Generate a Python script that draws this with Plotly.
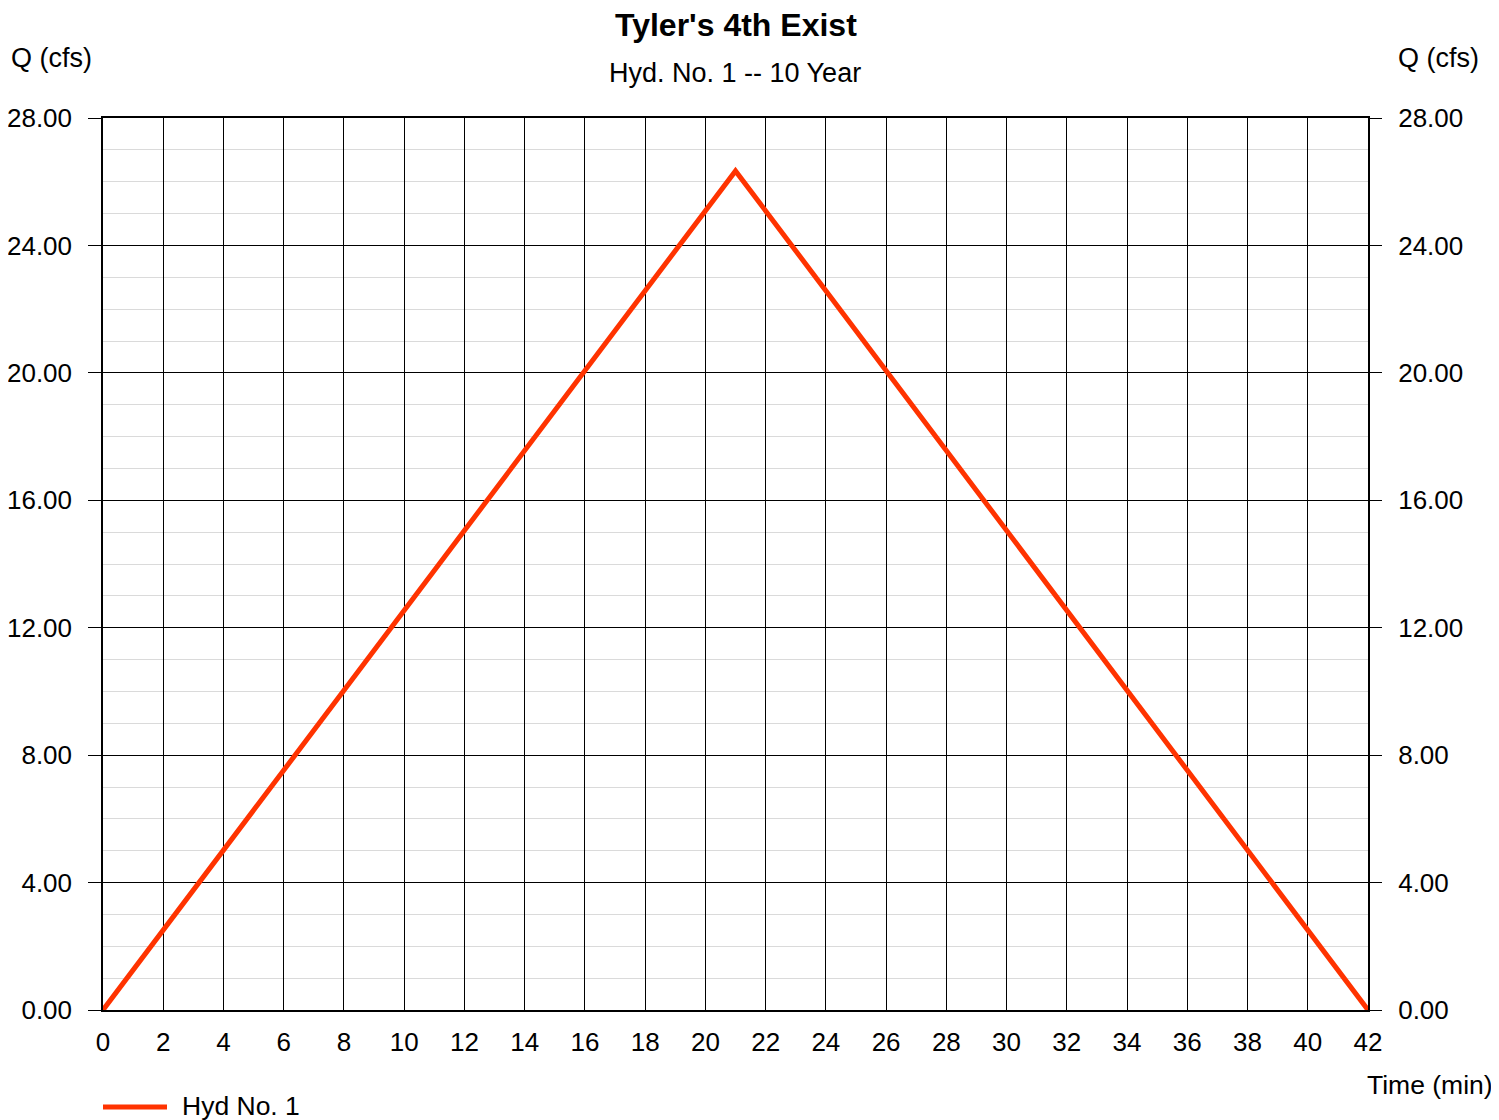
import plotly.graph_objects as go

# Data
time_min = [0, 21, 42]
q_cfs = [0.0, 26.34, 0.0]
series_name = "Hyd No. 1"

title = "Tyler's 4th Exist"
subtitle = "Hyd. No. 1 -- 10 Year"

# The page body adds an 8px offset; work in page coordinates and compensate.
OFF = 8
W, H = 1499 - OFF, 1120 - OFF
L, T = 103 - OFF, 118 - OFF
R = W - (1368 - OFF)
B = H - (1010 - OFF)
pw = W - L - R
ph = H - T - B

def px(xp):
    return (xp - OFF - L) / pw

def py(yp):
    return (H - B - (yp - OFF)) / ph

FONT = "Liberation Sans, Arial, sans-serif"
LINE_COLOR = "#ff3300"

fig = go.Figure()
fig.add_trace(go.Scatter(x=time_min, y=q_cfs, mode="lines", name=series_name,
                         line=dict(color=LINE_COLOR, width=5), yaxis="y",
                         showlegend=False))
fig.add_trace(go.Scatter(x=time_min, y=q_cfs, mode="lines", showlegend=False,
                         line=dict(color="rgba(0,0,0,0)", width=0), yaxis="y2",
                         hoverinfo="skip"))

fig.update_layout(
    width=W, height=H,
    margin=dict(l=L, r=R, t=T, b=B, autoexpand=False),
    paper_bgcolor="white", plot_bgcolor="white",
    font=dict(family=FONT, size=26, color="black"),
    showlegend=False,
    xaxis=dict(range=[0, 42], dtick=2, tick0=0, showgrid=True, gridcolor="black",
               gridwidth=1, zeroline=False, showline=True, linecolor="black",
               linewidth=1.5, mirror=True, ticks="", ticklabelstandoff=8,
               tickfont=dict(size=26), automargin=False),
    yaxis=dict(range=[0, 28], dtick=4, tick0=0, tickformat=".2f", showgrid=True,
               gridcolor="black", gridwidth=1, zeroline=False, showline=True,
               linecolor="black", linewidth=1.5, mirror=True, ticks="outside",
               ticklen=13, tickcolor="black", ticklabelstandoff=11,
               tickfont=dict(size=26), automargin=False,
               minor=dict(dtick=1, tick0=0, showgrid=True, gridcolor="#dadada",
                          gridwidth=1, ticks="")),
    yaxis2=dict(range=[0, 28], dtick=4, tick0=0, tickformat=".2f", overlaying="y",
                side="right", showgrid=False, zeroline=False, ticks="outside",
                ticklen=13, tickcolor="black", ticklabelstandoff=11,
                tickfont=dict(size=26), showline=False, automargin=False),
)

annotations = [
    dict(text="<b>" + title + "</b>", x=px(736), y=py(25), xref="paper", yref="paper",
         xanchor="center", yanchor="middle", showarrow=False, font=dict(size=32)),
    dict(text=subtitle, x=px(735), y=py(73), xref="paper", yref="paper",
         xanchor="center", yanchor="middle", showarrow=False, font=dict(size=27)),
    dict(text="Q (cfs)", x=px(9), y=py(58), xref="paper", yref="paper",
         xanchor="left", yanchor="middle", showarrow=False, font=dict(size=27)),
    dict(text="Q (cfs)", x=px(1396), y=py(58), xref="paper", yref="paper",
         xanchor="left", yanchor="middle", showarrow=False, font=dict(size=27)),
    dict(text="Time (min)", x=px(1495), y=py(1085), xref="paper", yref="paper",
         xanchor="right", yanchor="middle", showarrow=False, font=dict(size=26.5)),
    # legend label
    dict(text=series_name, x=px(180), y=py(1106), xref="paper", yref="paper",
         xanchor="left", yanchor="middle", showarrow=False, font=dict(size=26.5)),
]
fig.update_layout(annotations=annotations)

# legend sample line
fig.add_shape(type="line", xref="paper", yref="paper",
              x0=px(103), x1=px(167), y0=py(1107), y1=py(1107),
              line=dict(color=LINE_COLOR, width=5))

fig.write_html("out.html")
